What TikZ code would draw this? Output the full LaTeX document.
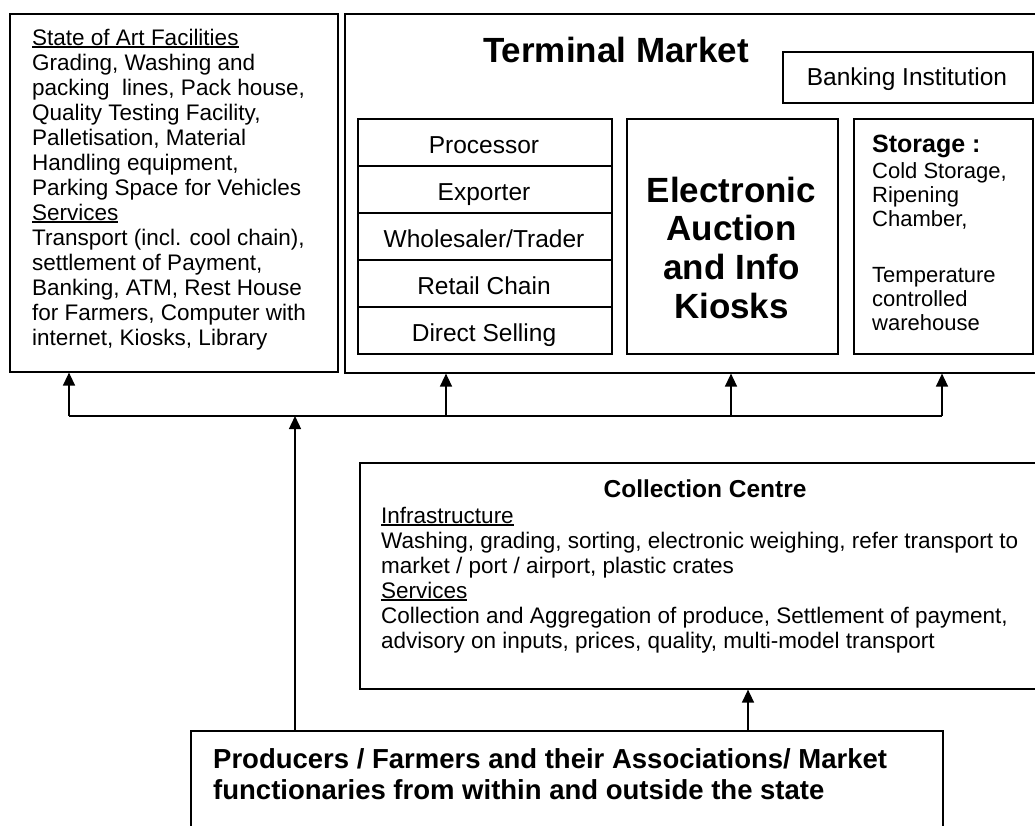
\documentclass[tikz,border=0pt]{standalone}
\usepackage{fontspec}
\setmainfont{Liberation Sans}
\usetikzlibrary{arrows.meta}
\newsavebox\ulbox
\newcommand\myul[1]{\sbox\ulbox{#1}\rlap{\rule[-2.6pt]{\wd\ulbox}{1.5pt}}\usebox\ulbox}
\begin{document}
\begin{tikzpicture}[x=1pt,y=-1pt,
  box/.style={draw, line width=1.6pt, inner sep=0pt, anchor=north west},
  body/.style={inner sep=0pt, anchor=base west, font=\fontsize{22.5}{25}\selectfont},
  cell/.style={inner sep=0pt, anchor=base, font=\fontsize{24.5}{27}\selectfont},
  big/.style={inner sep=0pt, anchor=base, font=\bfseries\fontsize{35}{38}\selectfont},
  stortxt/.style={inner sep=0pt, anchor=base west, font=\fontsize{22}{24}\selectfont},
  line/.style={line width=1.4pt},
  arr/.style={line width=1.4pt, -{Triangle[width=12pt,length=13pt]}}]
\clip (0,0) rectangle (1035,825);
\fill[white] (0,0) rectangle (1035,825);

% boxes
\node[box, minimum width=328pt, minimum height=358pt] (fac) at (9,13) {};
\node[box, minimum width=720pt, minimum height=359pt] (tm) at (344,13) {};
\node[box, minimum width=250pt, minimum height=51pt] (bank) at (782,51) {};
\foreach \k in {0,...,4}
  \node[box, minimum width=254pt, minimum height=47pt] (row\k) at (357,118+47*\k) {};
\node[box, minimum width=211pt, minimum height=235pt] (elec) at (626,118) {};
\node[box, minimum width=179pt, minimum height=235pt] (stor) at (853,118) {};
\node[box, minimum width=720pt, minimum height=226pt] (coll) at (359,462) {};
\node[box, minimum width=752pt, minimum height=150pt] (prod) at (190,730) {};

% facilities text
\foreach \t [count=\i from 0] in {
  {\myul{State of Art Facilities}},
  {Grading, Washing and},
  {packing\ \ lines, Pack house,},
  {Quality Testing Facility,},
  {Palletisation, Material},
  {Handling equipment,},
  {Parking Space for Vehicles},
  {\myul{Services}},
  {Transport (incl. cool chain),},
  {settlement of Payment,},
  {Banking, ATM, Rest House},
  {for Farmers, Computer with},
  {internet, Kiosks, Library}}
  \node[body] (fl\i) at (32,45+25*\i) {\t};

% terminal market
\node[big] (title) at (616,62) {Terminal Market};
\node[cell] (banktxt) at (907,85) {Banking Institution};
\foreach \t [count=\i from 0] in {Processor,Exporter,Wholesaler/Trader,Retail Chain,Direct Selling}
  \node[cell] (rt\i) at (484,153+47*\i) {\t};
\node[big] (et0) at (731.5,202) {Electronic};
\node[big] (et1) at (731.5,240) {Auction};
\node[big] (et2) at (731.5,279) {and Info};
\node[big] (et3) at (731.5,318) {Kiosks};
\node[inner sep=0pt, anchor=base west, font=\bfseries\fontsize{25}{27}\selectfont] (st0) at (872,152) {Storage :};
\node[stortxt] (st1) at (872,178) {Cold Storage,};
\node[stortxt] (st2) at (872,202) {Ripening};
\node[stortxt] (st3) at (872,226) {Chamber,};
\node[stortxt] (st4) at (872,282) {Temperature};
\node[stortxt] (st5) at (872,306) {controlled};
\node[stortxt] (st6) at (872,330) {warehouse};

% collection centre
\node[inner sep=0pt, anchor=base, font=\bfseries\fontsize{24.5}{27}\selectfont] (ctitle) at (705,497) {Collection Centre};
\foreach \t [count=\i from 0] in {
  {\myul{Infrastructure}},
  {Washing, grading, sorting, electronic weighing, refer transport to},
  {market / port / airport, plastic crates},
  {\myul{Services}},
  {Collection and Aggregation of produce, Settlement of payment,},
  {advisory on inputs, prices, quality, multi-model transport}}
  \node[body] (cl\i) at (381,523+25*\i) {\t};

% producers
\node[inner sep=0pt, anchor=base west, font=\bfseries\fontsize{27.5}{31}\selectfont] (pl0) at (213,768) {Producers / Farmers and their Associations/ Market};
\node[inner sep=0pt, anchor=base west, font=\bfseries\fontsize{27.5}{31}\selectfont] (pl1) at (213,799) {functionaries from within and outside the state};

% connectors
\coordinate (b1) at (69,416);
\coordinate (b2) at (446,416);
\coordinate (b3) at (731,416);
\coordinate (b4) at (942,416);
\coordinate (bc) at (295,416);
\coordinate (pc) at (748,730);
\draw[line] (b1) -- (b4);
\draw[arr] (b1) -- (b1 |- fac.south);
\draw[arr] (b2) -- (b2 |- tm.south);
\draw[arr] (b3) -- (b3 |- tm.south);
\draw[arr] (b4) -- (b4 |- tm.south);
\draw[arr] (prod.north -| bc) -- (bc);
\draw[arr] (pc) -- (pc |- coll.south);
\end{tikzpicture}
\end{document}
